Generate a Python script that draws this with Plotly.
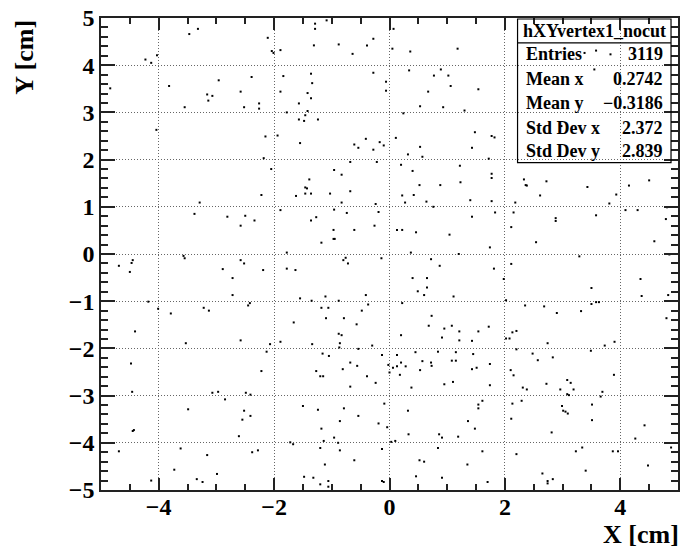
import plotly.graph_objects as go

# ---------------- data ----------------
x_vals = [
    # upper-left
    -4.84, -4.23, -4.13, -4.03, -3.82, -3.47, -3.32, -3.55, -3.16, -3.14, -3.07, -2.96, -2.58, -2.52,
    -2.39, -2.26, -2.26, -4.04, -2.15, -2.18, -2.05, -2.11, -2.04, -2.01, -1.89, -1.89, -1.84, -1.94,
    # upper-middle
    -1.29, -1.29, -1.09, -1.31, -0.88, -0.64, -0.39, -0.28, 0.07, 0.05, 0.36, 1.18, -1.36, -1.34,
    -0.28, -0.06, -0.06, 0.34, 0.77, 0.89, 1.02, 1.06, 0.67, 1.54, -1.42, -1.36, -1.57, -1.78,
    -1.42, -1.46, -1.57, -1.48, -1.24, 0.24, 0.53, 0.93, 1.30, -1.55, -0.61, -0.54, -0.41, -0.28,
    -0.17, -0.10, 0.11, 0.53, 1.48, 1.43, 0.32, 0.57, -0.68, -0.22, -0.96, -0.83, 0.20, 0.40, 1.22,
    # upper-right
    1.77, 1.82, 3.38, 3.58, 3.83, 3.55, 2.98,
    # middle-left
    -2.22, -3.29, -3.38, -2.81, -2.50, -2.58, -2.34, -1.89, -3.57, -3.55, -4.69, -4.45, -4.47, -4.50,
    -2.89, -2.58, -2.52, -2.19, -1.78, -1.78, -2.72, -2.72, -2.45, -2.42, -4.18, -4.01, -3.79, -3.22,
    -3.13, -4.41, -3.53, -2.58, -2.07, -1.89,
    # centre
    -1.39, -1.46, -1.43, -1.62, -1.46, -1.36, -1.03, -0.68, -0.83, -0.24, 0.52, 0.22, 0.42, 0.27,
    0.64, 0.76, 0.88, 1.23, 1.40, -0.96, -0.74, -0.19, -1.27, -1.36, -0.26, -0.97, -0.61, 0.13,
    0.22, 0.46, 1.04, 1.43, -0.97, -0.95, -1.18, -0.14, 0.37, 0.72, 1.20, -0.80, -0.76, -0.72,
    -1.63, 0.87, 0.40, 0.65, 0.65, 0.49, 0.60, 1.11, -1.55, -1.35, -1.11, -0.88, -0.41, -0.37,
    0.22, -1.18, -1.06, -0.48, -1.10, -0.79, -1.66, -0.57, 0.73, 0.68, 0.95, 1.08, 1.21, -0.88,
    -0.83, 0.20, 0.91, 1.21, 1.54, -1.34, -0.86, -0.30, 1.43,
    # middle-right
    1.72, 1.77, 1.77, 2.33, 2.36, 2.38, 2.72, 3.43, 2.61, 3.93, 4.15, 4.50, 1.77, 2.18, 3.81, 1.83,
    2.15, 2.88, 2.88, 3.58, 4.09, 4.30, 4.81, 4.79, 2.11, 2.54, 4.59, 1.74, 3.29, 4.85, 1.81, 2.11,
    1.98, 4.35, 3.50, 4.37, 4.83, 2.02, 2.35, 2.68, 2.90, 3.32, 3.50, 3.58, 3.63, 4.80, 1.72, 2.13,
    2.20, 2.02, 2.08,
    # lower-left
    -2.13, -4.48, -4.46, -2.22, -3.07, -2.97, -2.85, -2.49, -2.41, -3.49, -2.52, -2.41, -2.55, -4.45,
    -4.43, -2.61, -4.69, -3.62, -3.16, -2.38, -2.28, -3.73, -2.99, -4.13, -3.34, -3.24,
    # lower-middle
    -1.16, -1.05, -0.87, -0.54, -0.13, -0.68, -0.56, -1.27, -1.20, -1.15, -0.81, -0.39, -0.24, -0.68,
    -0.02, 0.00, 0.06, 0.13, 0.13, 0.20, 0.28, 0.18, 0.45, 0.53, 0.57, 0.72, 0.73, 0.84, 1.08, 1.15,
    1.15, 1.45, 1.43, 0.38, 0.95, 1.10, -1.50, -1.24, -0.79, -0.09, 0.32, -0.86, -0.54, -0.19, -0.04,
    1.36, -1.18, 0.33, 0.86, 0.91, 1.19, -0.96, -1.72, -1.67, -1.14, -0.89, -1.20, -0.86, -0.13, 0.03,
    0.10, 0.84, -0.61, -1.12, 0.52, 0.60, 1.35, -1.48, -1.32, -1.20, -1.06, -1.06, -0.13, -0.10, 0.46,
    0.91,
    # lower-right
    2.74, 1.74, 1.51, 2.20, 2.48, 2.57, 2.83, 3.49, 3.73, 3.90, 2.10, 2.15, 1.74, 2.31, 2.38, 2.72,
    3.08, 3.14, 2.96, 3.19, 3.08, 3.11, 3.69, 3.66, 3.89, 1.61, 2.29, 2.13, 1.54, 1.54, 2.99, 3.01,
    3.05, 3.09, 3.51, 3.51, 2.11, 1.48, 2.81, 4.42, 4.26, 1.61, 2.20, 3.23, 3.34, 3.87, 3.96, 4.88,
    3.40, 4.48, 2.65, 2.74, 2.74, 2.83, 1.70,
]
y_vals = [
    # upper-left
    3.51, 4.12, 4.05, 4.21, 3.56, 4.66, 4.77, 3.11, 3.38, 3.25, 3.35, 3.68, 3.44, 3.11,
    3.75, 3.19, 3.08, 2.63, 2.49, 2.03, 1.80, 4.58, 4.30, 4.26, 4.32, 3.44, 3.77, 2.51,
    # upper-middle
    4.88, 4.77, 4.95, 4.42, 4.44, 4.24, 4.42, 4.56, 4.77, 4.35, 4.29, 4.35, 3.82, 3.62,
    3.84, 3.65, 3.46, 3.89, 3.78, 3.91, 3.78, 3.56, 3.44, 3.49, 3.41, 3.30, 3.19, 3.00,
    3.03, 2.94, 2.85, 2.82, 2.85, 2.98, 3.13, 3.11, 3.04, 2.35, 2.32, 2.25, 2.44, 2.21,
    2.37, 2.30, 2.46, 2.27, 2.58, 2.25, 2.11, 2.06, 1.95, 1.95, 1.78, 1.68, 1.89, 1.76, 1.87,
    # upper-right
    2.50, 2.47, 4.26, 4.31, 4.23, 3.91, 2.71,
    # middle-left
    1.25, 1.09, 0.85, 0.79, 0.81, 0.60, 0.71, 0.93, -0.04, -0.09, -0.25, -0.13, -0.19, -0.38,
    -0.32, -0.13, -0.20, -0.34, 0.03, -0.31, -0.51, -0.87, -1.09, -1.04, -1.01, -1.16, -1.26, -1.14,
    -1.20, -1.64, -1.89, -1.83, -1.91, -1.86,
    # centre
    1.58, 1.41, 1.39, 1.23, 1.28, 1.28, 1.28, 1.33, 1.09, 1.06, 1.46, 1.24, 1.25, 1.09,
    1.11, 1.00, 1.46, 1.52, 1.14, 0.94, 0.87, 0.89, 0.78, 0.71, 0.60, 0.51, 0.51, 0.51,
    0.51, 0.46, 0.41, 0.79, 0.32, 0.32, 0.24, -0.09, 0.03, -0.11, 0.00, -0.13, -0.08, -0.20,
    -0.34, -0.25, -0.51, -0.51, -0.71, -0.79, -0.87, -0.90, -0.94, -0.99, -0.90, -0.99, -0.87, -1.07,
    -1.04, -1.14, -1.14, -1.20, -1.36, -1.36, -1.45, -1.49, -1.31, -1.52, -1.58, -1.52, -1.64, -1.69,
    -1.72, -1.72, -1.77, -1.83, -1.64, -1.91, -1.89, -1.94, -1.84,
    # middle-right
    2.02, 1.70, 1.61, 1.58, 1.46, 1.45, 1.54, 1.42, 1.24, 1.26, 1.45, 1.56, 1.12, 1.09, 1.07, 0.88,
    0.88, 0.76, 0.70, 0.82, 0.93, 0.93, 0.99, 0.74, 0.57, 0.25, 0.27, 0.14, -0.05, -0.01, -0.31, -0.21,
    -0.53, -0.53, -0.72, -0.89, -0.87, -0.98, -1.09, -1.11, -1.25, -1.21, -1.06, -1.02, -1.02, -1.36, -1.54, -1.66,
    -1.63, -1.79, -1.79,
    # lower-left
    -2.07, -2.32, -2.92, -2.48, -2.94, -2.92, -3.08, -2.94, -2.98, -3.29, -3.32, -3.43, -3.51, -3.75,
    -3.73, -3.86, -4.18, -4.12, -4.26, -4.20, -4.16, -4.57, -4.66, -4.80, -4.77, -4.83,
    # lower-middle
    -2.11, -2.16, -1.98, -2.01, -2.14, -2.30, -2.37, -2.48, -2.59, -2.59, -2.44, -2.59, -2.73, -2.81,
    -2.35, -2.51, -2.41, -2.14, -2.38, -2.30, -2.38, -2.56, -2.08, -2.46, -2.27, -2.30, -2.37, -2.07, -2.26, -2.26,
    -2.08, -2.12, -2.44, -2.83, -2.76, -2.71, -3.22, -3.30, -3.27, -3.17, -3.32, -3.54, -3.43, -3.59, -3.67,
    -3.54, -3.70, -3.82, -3.82, -3.89, -3.87, -3.89, -3.99, -4.03, -3.96, -4.00, -4.11, -4.16, -4.13, -3.98,
    -3.96, -4.11, -4.37, -4.46, -4.37, -4.40, -4.46, -4.72, -4.74, -4.88, -4.81, -4.93, -4.81, -4.83, -4.71,
    -4.74,
    # lower-right
    -1.89, -2.33, -2.41, -2.02, -2.11, -2.25, -2.19, -2.05, -1.94, -1.86, -2.46, -2.57, -2.78, -2.83, -2.87, -2.75,
    -2.67, -2.73, -2.87, -2.87, -2.97, -2.99, -2.92, -3.02, -2.56, -3.11, -3.11, -3.17, -3.19, -3.27, -3.22, -3.32,
    -3.34, -3.38, -3.19, -3.52, -3.49, -3.70, -3.78, -3.63, -3.91, -4.18, -4.24, -4.18, -4.10, -4.18, -4.18, -4.10,
    -4.59, -4.48, -4.65, -4.81, -4.86, -4.77, -4.83,
]

x_tick_vals = [-4, -2, 0, 2, 4]
x_tick_text = ["\u22124", "\u22122", "0", "2", "4"]
y_tick_vals = [-5, -4, -3, -2, -1, 0, 1, 2, 3, 4, 5]
y_tick_text = ["\u22125", "\u22124", "\u22123", "\u22122", "\u22121", "0", "1", "2", "3", "4", "5"]

stats_title = "hXYvertex1_nocut"
stats_labels = ["Entries", "Mean x", "Mean y", "Std Dev x", "Std Dev y"]
stats_values = ["3119", "0.2742", "\u22120.3186", "2.372", "2.839"]

x_title = "X [cm]"
y_title = "Y [cm]"
footer_text = "02-2023"

# ---------------- figure ----------------
W, H = 685, 549
ML, MR, MT, MB = 101, 5, 17, 59
PW, PH = W - ML - MR, H - MT - MB


def px_x(px):
    return (px - ML) / PW


def px_y(py):
    return (H - MB - py) / PH


serif_b = dict(family="Liberation Serif", color="black", weight="bold")

fig = go.Figure()
fig.add_trace(go.Scatter(
    x=x_vals, y=y_vals, mode="markers",
    marker=dict(symbol="square", size=2, color="black", line=dict(width=0)),
    hoverinfo="skip", showlegend=False,
))
# empty trace so the mirrored tick axes get drawn
fig.add_trace(go.Scatter(x=[], y=[], xaxis="x2", yaxis="y2", showlegend=False))

grid = dict(showgrid=True, gridcolor="#666666", gridwidth=1, griddash="1px,2px")

fig.update_layout(
    width=W, height=H,
    margin=dict(l=ML, r=MR, t=MT, b=MB, pad=0),
    paper_bgcolor="white", plot_bgcolor="white",
    xaxis=dict(
        range=[-5, 5], tickvals=x_tick_vals, ticktext=x_tick_text,
        ticks="inside", ticklen=12, tickwidth=1.5, tickcolor="#222",
        minor=dict(ticks="inside", ticklen=6, dtick=0.5, tickwidth=1.5, tickcolor="#222", showgrid=False),
        showline=True, linecolor="#222", linewidth=1.5, mirror=True,
        zeroline=False, tickfont=dict(size=24, **serif_b), ticklabelstandoff=-6,
        **grid,
    ),
    yaxis=dict(
        range=[-5, 5], tickvals=y_tick_vals, ticktext=y_tick_text,
        ticks="inside", ticklen=14, tickwidth=1.5, tickcolor="#222",
        minor=dict(ticks="inside", ticklen=7, dtick=0.2, tickwidth=1.5, tickcolor="#222", showgrid=False),
        showline=True, linecolor="#222", linewidth=1.5, mirror=True,
        zeroline=False, tickfont=dict(size=24, **serif_b), ticklabelstandoff=0,
        **grid,
    ),
    xaxis2=dict(
        range=[-5, 5], overlaying="x", side="top", anchor="y2", matches="x",
        tickvals=x_tick_vals, ticks="inside", ticklen=12, tickwidth=1.5, tickcolor="#222",
        minor=dict(ticks="inside", ticklen=6, dtick=0.5, tickwidth=1.5, tickcolor="#222", showgrid=False),
        showticklabels=False, showgrid=False, zeroline=False, showline=False,
    ),
    yaxis2=dict(
        range=[-5, 5], overlaying="y", side="right", anchor="x2", matches="y",
        tickvals=y_tick_vals, ticks="inside", ticklen=14, tickwidth=1.5, tickcolor="#222",
        minor=dict(ticks="inside", ticklen=7, dtick=0.2, tickwidth=1.5, tickcolor="#222", showgrid=False),
        showticklabels=False, showgrid=False, zeroline=False, showline=False,
    ),
)

# statistics box (transparent, as in the reference)
bx0, bx1, by0, by1, bhead = 519, 673, 18, 162, 42
fig.add_shape(type="rect", xref="paper", yref="paper",
              x0=px_x(bx0), x1=px_x(bx1), y0=px_y(by1), y1=px_y(by0),
              line=dict(color="black", width=1.2), fillcolor="rgba(0,0,0,0)")
fig.add_shape(type="line", xref="paper", yref="paper",
              x0=px_x(bx0), x1=px_x(bx1), y0=px_y(bhead), y1=px_y(bhead),
              line=dict(color="black", width=1.2))
fig.add_annotation(text=stats_title, xref="paper", yref="paper",
                   x=px_x((bx0 + bx1) / 2), y=px_y(30), xanchor="center", yanchor="middle",
                   showarrow=False, font=dict(size=18, **serif_b))
row_y = [53, 78, 102, 127, 150]
for lab, val, ry in zip(stats_labels, stats_values, row_y):
    fig.add_annotation(text=lab, xref="paper", yref="paper", x=px_x(525), y=px_y(ry),
                       xanchor="left", yanchor="middle", showarrow=False,
                       font=dict(size=18, **serif_b))
    fig.add_annotation(text=val, xref="paper", yref="paper", x=px_x(667), y=px_y(ry),
                       xanchor="right", yanchor="middle", showarrow=False,
                       font=dict(size=18, **serif_b))

# axis titles (right/top aligned like ROOT)
fig.add_annotation(text=x_title, xref="paper", yref="paper", x=px_x(683), y=px_y(551),
                   xanchor="right", yanchor="bottom", showarrow=False,
                   font=dict(size=26, **serif_b))
fig.add_annotation(text=y_title, xref="paper", yref="paper", x=px_x(24), y=px_y(17),
                   xanchor="center", yanchor="top", textangle=-90, showarrow=False,
                   font=dict(size=26, **serif_b))
# footer text, mostly cut off by the bottom of the canvas
fig.add_annotation(text=footer_text, xref="paper", yref="paper", x=px_x(13), y=px_y(546),
                   xanchor="left", yanchor="top", showarrow=False,
                   font=dict(size=26, family="Liberation Sans", color="black"))

fig.write_html("out.html", config={"displayModeBar": False},
               post_script="document.body.style.margin='0px';")
